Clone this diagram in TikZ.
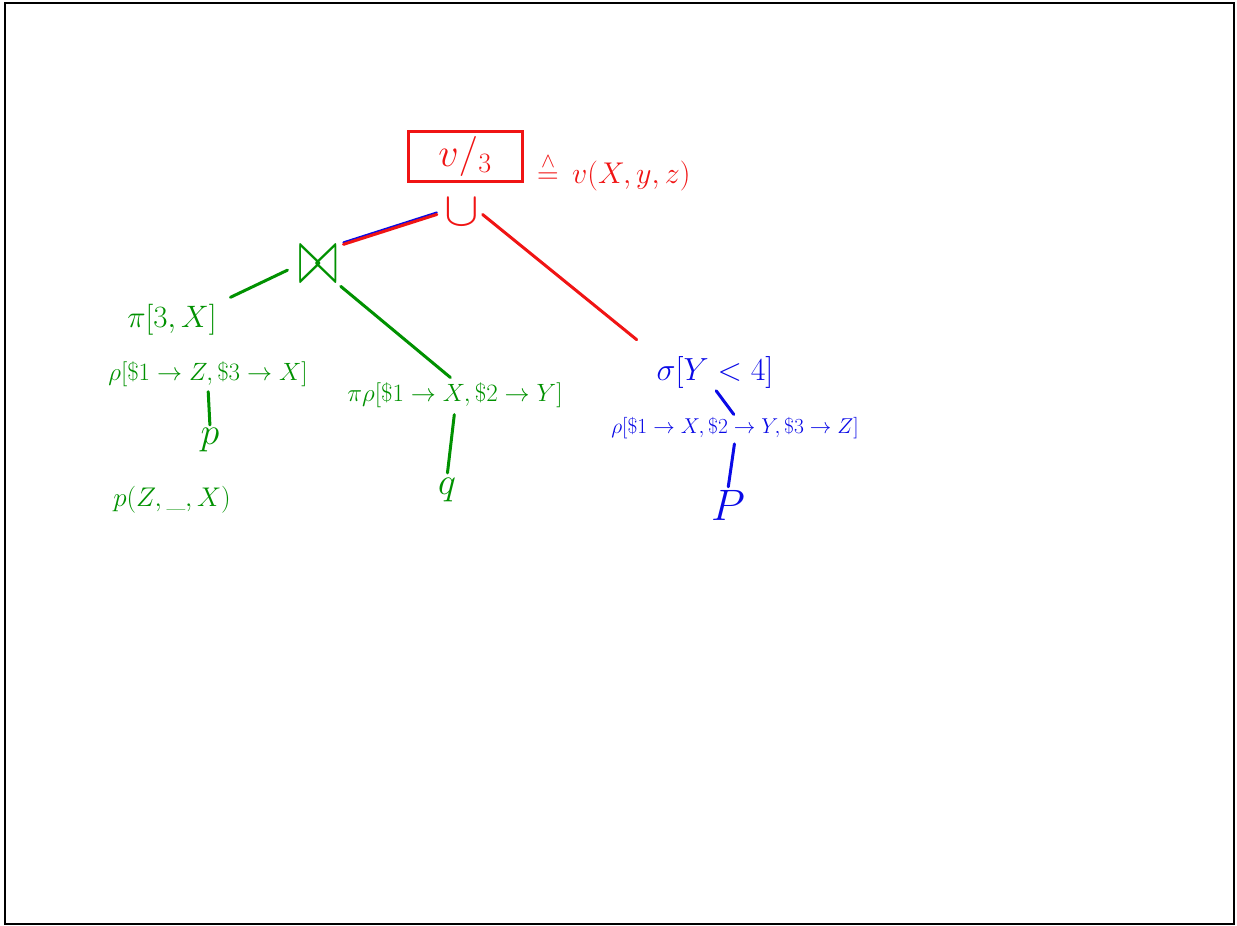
\RequirePackage{fix-cm}
\documentclass[tikz,border=0pt]{standalone}
\usepackage{amsmath}
\definecolor{hred}{RGB}{240,20,20}
\definecolor{hgreen}{RGB}{0,145,0}
\definecolor{hblue}{RGB}{10,10,230}
\begin{document}
\begin{tikzpicture}[x=1pt,y=-1pt,
  lbl/.style={inner sep=1pt, font=\fontsize{25}{29}\selectfont},
  big/.style={inner sep=0pt, font=\fontsize{40}{44}\selectfont},
  edge/.style={line width=3pt, line cap=round}]
\useasboundingbox (0,0) rectangle (1237,926);
\draw[line width=1.5pt] (5,3) rectangle (1234,924);
% root
\node[draw=hred, line width=3pt, minimum width=114pt, minimum height=50pt, text=hred, inner sep=1pt, font=\fontsize{40}{44}\selectfont] (box) at (465,156) {$v/_{3}$};
\node[anchor=west, text=hred, inner sep=0pt, font=\fontsize{30}{34}\selectfont] (def) at (537,172) {$\stackrel{\wedge}{=}\,v(X,y,z)$};
\node[big, text=hred] (cup) at (462,212) {\scalebox{1.3}[1.2]{$\cup$}};
\node[big, text=hgreen] (join) at (318,265) {\scalebox{1.2}[2]{$\bowtie$}};
% left branch
\node[lbl, text=hgreen, font=\fontsize{31}{35}\selectfont] (pi1) at (172,320) {$\pi[3,X]$};
\node[lbl, text=hgreen] (rho1) at (208,374) {$\rho[\$1\to Z,\$3\to X]$};
\node[lbl, text=hgreen, font=\fontsize{38}{42}\selectfont] (p1) at (210,440) {$p$};
\node[lbl, text=hgreen, font=\fontsize{27}{31}\selectfont] (p1full) at (172,500) {$p(Z,\_,X)$};
% middle branch
\node[lbl, text=hgreen] (pirho) at (455,395) {$\pi\rho[\$1\to X,\$2\to Y]$};
\node[lbl, text=hgreen, font=\fontsize{38}{42}\selectfont] (q) at (447,490) {$q$};
% right branch
\node[lbl, text=hblue, font=\fontsize{32}{36}\selectfont] (sigma) at (715,372) {$\sigma[Y<4]$};
\node[lbl, text=hblue, font=\fontsize{21.5}{25}\selectfont] (rho3) at (735,428) {$\rho[\$1\to X,\$2\to Y,\$3\to Z]$};
\node[lbl, text=hblue, font=\fontsize{44}{48}\selectfont] (P) at (728,505) {$P$};
% connectors
\draw[edge, hblue, line width=2pt, shorten <=8pt, shorten >=6pt] ([yshift=2pt]cup.west) -- ([yshift=2pt]join.north east);
\draw[edge, hred, shorten <=8pt, shorten >=6pt] (cup.west) -- (join.north east);
\draw[edge, hred, shorten <=4pt, shorten >=24pt] (cup.east) -- (sigma.north west);
\draw[edge, hgreen, shorten <=12pt, shorten >=14pt] (join.west) -- (pi1.north east);
\draw[edge, hgreen, shorten <=4pt, shorten >=6pt] (join.south east) -- (pirho.north);
\draw[edge, hgreen, shorten <=4pt, shorten >=2pt] (rho1.south) -- (p1.north);
\draw[edge, hgreen, shorten <=6pt, shorten >=4pt] (pirho.south) -- (q.north);
\draw[edge, hblue, shorten <=2pt, shorten >=2pt] (sigma.south) -- (rho3.north);
\draw[edge, hblue, shorten <=4pt, shorten >=2pt] (rho3.south) -- (P.north);
\end{tikzpicture}
\end{document}
